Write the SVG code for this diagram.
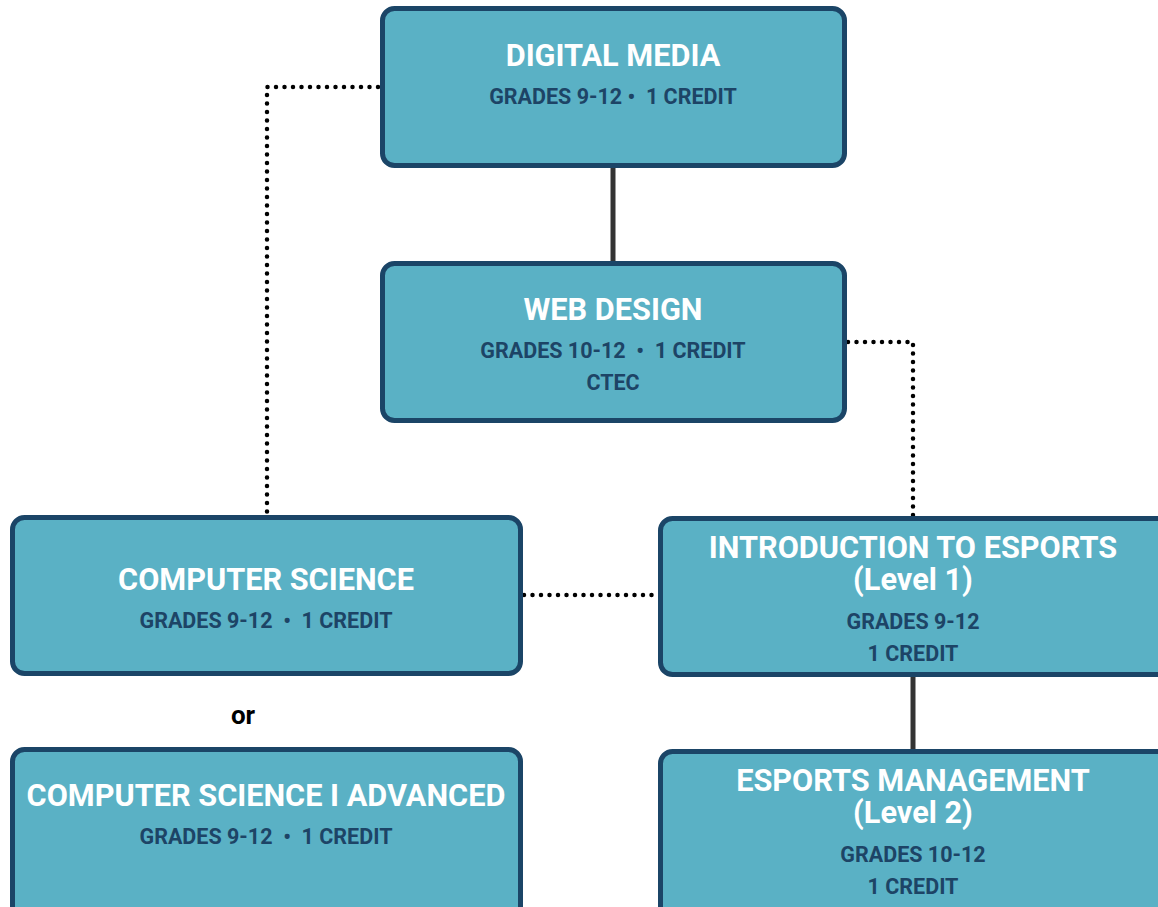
<svg xmlns="http://www.w3.org/2000/svg" width="1158" height="907" viewBox="0 0 1158 907">
<style>
.box{fill:#5ab1c5;stroke:#1b4567;stroke-width:5}
.t{font-family:Roboto,"Liberation Sans",sans-serif;font-weight:bold;font-size:30.7px;fill:#ffffff;text-anchor:middle}
.s{font-family:Roboto,"Liberation Sans",sans-serif;font-weight:bold;font-size:21.5px;fill:#1d4466;text-anchor:middle;white-space:pre}
.or{font-family:Roboto,"Liberation Sans",sans-serif;font-weight:bold;font-size:26px;fill:#000000;text-anchor:middle}
.solid{stroke:#333333;stroke-width:5;fill:none}
.dot{stroke:#000000;stroke-width:4.5;fill:none;stroke-linecap:round;stroke-dasharray:0 8.5}
</style>
<rect width="1158" height="907" fill="#ffffff"/>
<g id="connectors">
<line class="solid" x1="613" y1="167" x2="613" y2="262"/>
<line class="solid" x1="913" y1="676" x2="913" y2="750"/>
<polyline class="dot" points="378,87 267,87 267,515"/>
<polyline class="dot" points="848,342 913,342 913,516"/>
<line class="dot" x1="524" y1="595" x2="657" y2="595"/>
</g>
<g id="digital-media">
<rect class="box" x="382.5" y="8.5" width="462" height="157" rx="12"/>
<text class="t" x="613" y="66">DIGITAL MEDIA</text>
<text class="s" x="613" y="104">GRADES 9-12 •  1 CREDIT</text>
</g>
<g id="web-design">
<rect class="box" x="382.5" y="263.5" width="462" height="157" rx="12"/>
<text class="t" x="613" y="320">WEB DESIGN</text>
<text class="s" x="613" y="358">GRADES 10-12  •  1 CREDIT</text>
<text class="s" x="613" y="390">CTEC</text>
</g>
<g id="computer-science">
<rect class="box" x="12.5" y="517.5" width="508" height="156" rx="12"/>
<text class="t" x="266" y="590">COMPUTER SCIENCE</text>
<text class="s" x="266" y="628">GRADES 9-12  •  1 CREDIT</text>
</g>
<g id="intro-esports">
<rect class="box" x="660.5" y="518.5" width="510" height="156" rx="12"/>
<text class="t" x="913" y="558">INTRODUCTION TO ESPORTS</text>
<text class="t" x="913" y="590">(Level 1)</text>
<text class="s" x="913" y="629">GRADES 9-12</text>
<text class="s" x="913" y="661">1 CREDIT</text>
</g>
<text class="or" x="243" y="724">or</text>
<g id="computer-science-advanced">
<rect class="box" x="12.5" y="749.5" width="508" height="170" rx="12"/>
<text class="t" x="266" y="806">COMPUTER SCIENCE I ADVANCED</text>
<text class="s" x="266" y="844">GRADES 9-12  •  1 CREDIT</text>
</g>
<g id="esports-management">
<rect class="box" x="660.5" y="751.5" width="510" height="170" rx="12"/>
<text class="t" x="913" y="791">ESPORTS MANAGEMENT</text>
<text class="t" x="913" y="823">(Level 2)</text>
<text class="s" x="913" y="862">GRADES 10-12</text>
<text class="s" x="913" y="894">1 CREDIT</text>
</g>
</svg>
